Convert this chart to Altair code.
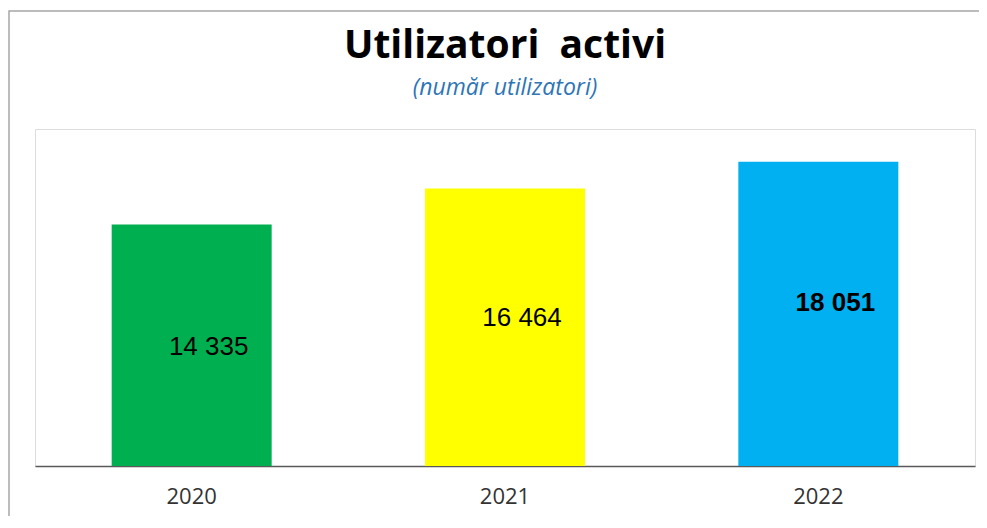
import altair as alt
import pandas as pd

years = ["2020", "2021", "2022"]
users = [14335, 16464, 18051]
labels = ["14 335", "16 464", "18 051"]
colors = ["#00B050", "#FFFF00", "#00B0F0"]

df = pd.DataFrame({"year": years, "users": users, "label": labels})

W, H = 940, 337

x_enc = alt.X("year:N", sort=years, title=None,
              scale=alt.Scale(paddingInner=0.49, paddingOuter=0.245),
              axis=alt.Axis(labelAngle=0, ticks=False, domainColor="#595959", domainWidth=1.5,
                            labelFont="Open Sans", labelFontSize=22, labelColor="#333333",
                            labelPadding=20, grid=False))
y_scale = alt.Scale(domain=[0, 20000])

base = alt.Chart(df)

border = base.mark_rect(filled=False, stroke="#A6A6A6", strokeWidth=1.5, clip=False).encode(
    x=alt.value(-26), y=alt.value(-118), x2=alt.value(1100), y2=alt.value(700)
).transform_filter(alt.datum.year == "2020")

bars = base.mark_bar(size=160).encode(
    x=x_enc,
    y=alt.Y("users:Q", scale=y_scale, axis=None),
    color=alt.Color("year:N", scale=alt.Scale(domain=years, range=colors), legend=None),
)

label_layers = []
dys = [2, -9, -11]
weights = ["normal", "normal", "bold"]
for yr, dy, wt in zip(years, dys, weights):
    label_layers.append(
        base.transform_filter(alt.datum.year == yr)
        .transform_calculate(mid="datum.users / 2")
        .mark_text(font="Liberation Sans", fontSize=26, fontWeight=wt, color="#000000",
                   dx=17, dy=dy, baseline="middle", align="center")
        .encode(x=alt.X("year:N", sort=years), y=alt.Y("mid:Q", scale=y_scale), text="label:N")
    )

chart = alt.layer(border, bars, *label_layers).properties(
    width=W, height=H,
    autosize=alt.AutoSizeParams(type="none"),
    padding={"left": 27, "top": 121, "right": 4, "bottom": 50},
    title=alt.TitleParams(
        "Utilizatori \u00a0activi",
        subtitle="(număr utilizatori)",
        font="Open Sans", fontSize=39, fontWeight="bold", color="#000000",
        subtitleFont="Open Sans", subtitleFontSize=23, subtitleFontStyle="italic",
        subtitleColor="#2E75B6", subtitlePadding=11,
        anchor="middle", offset=-90,
    ),
).configure_view(stroke="#D0D0D0", strokeWidth=1.5).configure(background="white")

chart.save("out.html", embed_options={"renderer": "svg", "actions": False})
